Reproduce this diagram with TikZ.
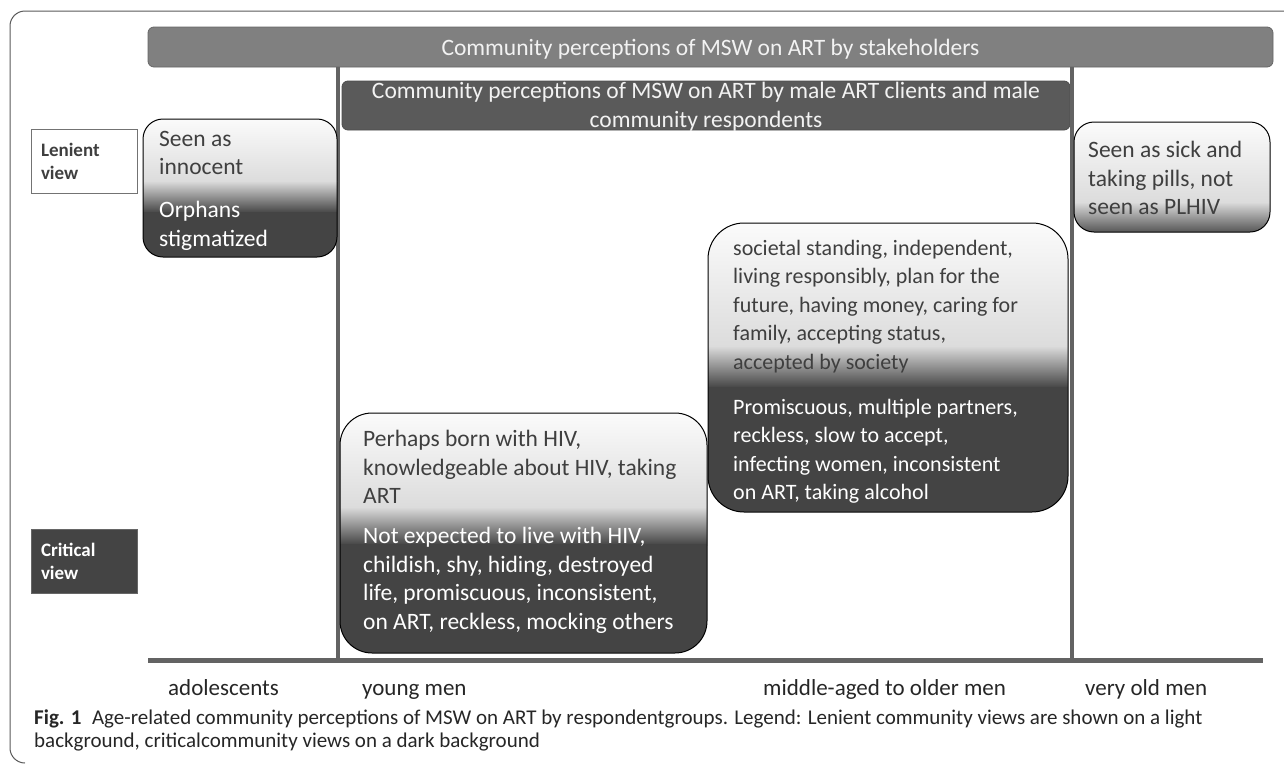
\documentclass[tikz,border=0pt]{standalone}
\usepackage{fontspec}
\setmainfont{Carlito}
\definecolor{bargray}{HTML}{808080}
\definecolor{bardark}{HTML}{5A5A5A}
\definecolor{rulegray}{HTML}{636363}
\definecolor{darkfill}{HTML}{444444}
\definecolor{inktext}{HTML}{3F3F3F}
\definecolor{lighttop}{HTML}{FBFBFB}
\definecolor{lightlow}{HTML}{DCDCDC}

\begin{document}
\begin{tikzpicture}[x=1pt, y=-1pt,
    boxtext/.style={font=\fontsize{23.5}{28.5}\selectfont, align=left, anchor=north west, inner sep=0pt},
    lenient/.style={boxtext, text=inktext},
    critical/.style={boxtext, text=white},
    bar/.style={rounded corners=6pt, line width=0.8pt},
    bartext/.style={font=\fontsize{23.5}{28.5}\selectfont, text=white!95!black, align=center},
    viewkey/.style={font=\bfseries\fontsize{19}{23}\selectfont, minimum width=106pt, minimum height=64pt, text width=86pt, align=left, inner sep=0pt, line width=0.8pt},
    boxline/.style={draw=black, line width=1pt},
    ruleline/.style={rulegray, line width=4pt},
    agelabel/.style={font=\fontsize{23}{27}\selectfont, text=black!85, anchor=base west, inner sep=0pt},
    caption/.style={font=\fontsize{21}{22.5}\selectfont, text=black!85, align=left, anchor=north west, inner sep=0pt}]
    \useasboundingbox (0,0) rectangle (1284,763) ;
    \draw [black!65, line width=1pt, rounded corners=15pt] (1290,11) -- (10,11) -- (10,763) -- (25,763) ;

    \node [bar, fill=bargray, draw=black!60, minimum width=1125pt, minimum height=40pt] (stakeholders) at (710.5,47) {} ;
    \node [bartext] (stakeholderstext) at (710.5,49) {Community perceptions of MSW on ART by stakeholders} ;
    \node [bar, fill=bardark, draw=black!70, minimum width=728pt, minimum height=49pt] (malegroups) at (706,105.5) {} ;
    \node [bartext] (malegroupstext) at (706,106.5) {Community perceptions of MSW on ART by male ART clients and male\\community respondents} ;

    \draw [ruleline] (338,67) -- (338,660) ;
    \draw [ruleline] (1072,67) -- (1072,660) ;
    \draw [rulegray, line width=5pt] (148,660) -- (1263,660) ;

    \node [viewkey, draw=black!55, fill=white, text=inktext] (lenientkey) at (84,161) {Lenient\\view} ;
    \node [viewkey, draw=black!60, fill=darkfill, text=white] (criticalkey) at (84,561.5) {Critical\\view} ;

    \begin{scope}
        \clip [rounded corners=20pt] (143,119) rectangle (337,257) ;
        \shade [top color=lighttop, bottom color=lightlow] (143,119) rectangle (337,181) ;
        \shade [top color=lightlow, bottom color=darkfill] (143,181) rectangle (337,213) ;
        \fill [darkfill] (143,212) rectangle (337,257) ;
    \end{scope}
    \draw [boxline, rounded corners=20pt] (143,119) rectangle (337,257) ;
    \node [lenient] (innocent) at (159,131) {Seen as\\innocent} ;
    \node [critical] (orphans) at (159,201) {Orphans\\stigmatized} ;

    \begin{scope}
        \clip [rounded corners=32pt] (340,413) rectangle (707,653) ;
        \shade [top color=lighttop, bottom color=lightlow] (340,413) rectangle (707,507) ;
        \shade [top color=lightlow, bottom color=darkfill] (340,507) rectangle (707,545) ;
        \fill [darkfill] (340,544) rectangle (707,653) ;
    \end{scope}
    \draw [boxline, rounded corners=32pt] (340,413) rectangle (707,653) ;
    \node [lenient] (bornwith) at (363,430) {Perhaps born with HIV,\\knowledgeable about HIV, taking\\ART} ;
    \node [critical] (notexpected) at (363,527) {Not expected to live with HIV,\\childish, shy, hiding, destroyed\\life, promiscuous, inconsistent,\\on ART, reckless, mocking others} ;

    \begin{scope}
        \clip [rounded corners=36pt] (708,223) rectangle (1068,512) ;
        \shade [top color=lighttop, bottom color=lightlow] (708,223) rectangle (1068,346) ;
        \shade [top color=lightlow, bottom color=darkfill] (708,346) rectangle (1068,388) ;
        \fill [darkfill] (708,387) rectangle (1068,512) ;
    \end{scope}
    \draw [boxline, rounded corners=36pt] (708,223) rectangle (1068,512) ;
    \node [lenient, font=\fontsize{22}{28.5}\selectfont] (standing) at (733,240) {societal standing, independent,\\living responsibly, plan for the\\future, having money, caring for\\family, accepting status,\\accepted by society} ;
    \node [critical, font=\fontsize{22}{28.5}\selectfont] (promiscuous) at (733,399) {Promiscuous, multiple partners,\\reckless, slow to accept,\\infecting women, inconsistent\\on ART, taking alcohol} ;

    \begin{scope}
        \clip [rounded corners=20pt] (1074,122) rectangle (1270,232) ;
        \shade [top color=lighttop, bottom color=lightlow] (1074,122) rectangle (1270,202) ;
        \shade [top color=lightlow, bottom color=darkfill!90!white] (1074,202) rectangle (1270,232) ;
    \end{scope}
    \draw [boxline, rounded corners=20pt] (1074,122) rectangle (1270,232) ;
    \node [lenient] (sickpills) at (1088,141) {Seen as sick and\\taking pills, not\\seen as PLHIV} ;

    \node [agelabel] (adolescents) at (168,695) {adolescents} ;
    \node [agelabel] (youngmen) at (362,695) {young men} ;
    \node [agelabel] (middleaged) at (763,695) {middle-aged to older men} ;
    \node [agelabel] (veryold) at (1085,695) {very old men} ;

    \node [caption] (figcaption) at (34,710) {\textbf{Fig. 1}\enspace Age-related community perceptions of MSW on ART by respondentgroups. Legend: Lenient community views are shown on a light\\background, criticalcommunity views on a dark background} ;
\end{tikzpicture}
\end{document}
